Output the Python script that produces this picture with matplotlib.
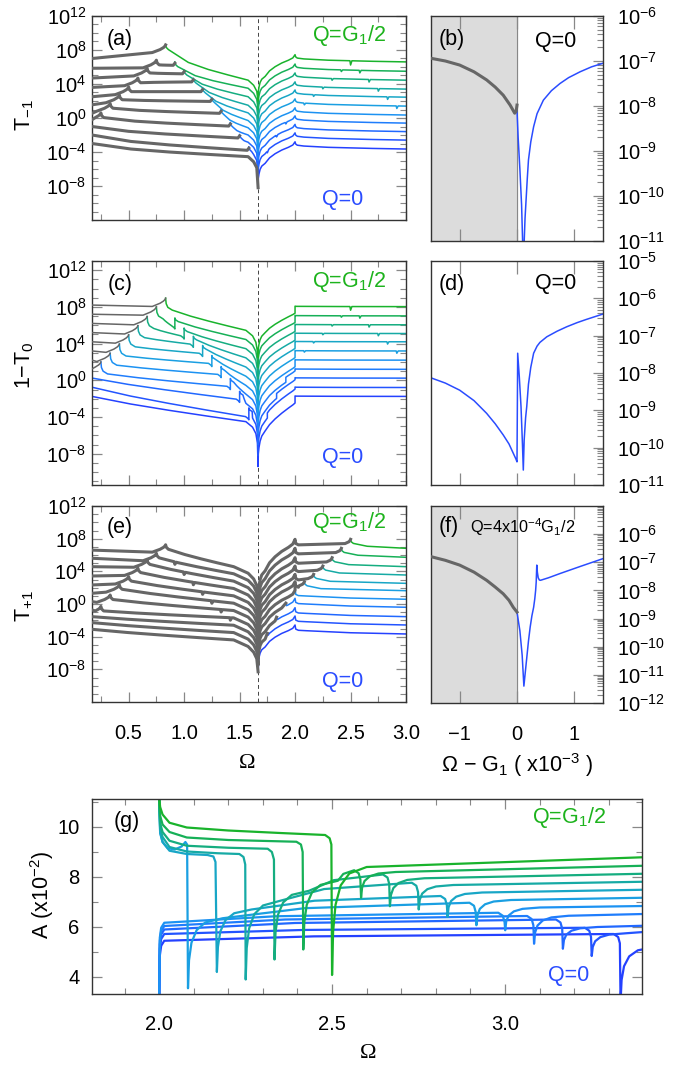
import numpy as np
import matplotlib
matplotlib.use("Agg")
import matplotlib.pyplot as plt
from matplotlib.ticker import FixedLocator, MultipleLocator, NullFormatter, FuncFormatter

plt.rcParams["font.family"] = ["Liberation Sans", "DejaVu Sans"]
plt.rcParams["mathtext.fontset"] = "custom"
plt.rcParams["mathtext.rm"] = "Liberation Sans"
plt.rcParams["mathtext.it"] = "Liberation Sans:italic"
plt.rcParams["mathtext.sf"] = "Liberation Sans"

# ------------------------------------------------------------------ data
G1 = 1.667
q_frac = [0.0, 0.1, 0.2, 0.3, 0.4, 0.5, 0.6, 0.7, 0.8, 0.9, 1.0]   # Q / (G1/2)

line_colors = ["#2441ff", "#2354ff", "#2168ff", "#1f7dfc", "#1c92f2", "#1a9fe2",
               "#18a6c6", "#16aaa5", "#15ad80", "#16b057", "#19b32c"]
gray = "#666666"
blue = "#2a4cff"
green = "#1db31d"

# (a) T_-1, log10 values
a_left = [-3.0, -2.0, -1.0, -0.2, 0.55, 1.55, 2.5, 3.6, 4.7, 5.85, 7.0]
a_cusp = [None, None, None, 0.6, 1.7, 2.7, 3.65, 4.7, 5.85, 6.8, 8.6]
a_open = [None, -3.4, -1.95, -0.55, 0.95, 2.35, 3.5, 4.65, 5.6, 6.6, 8.6]
a_knee = [-4.55, -3.7, -2.85, -2.0, -1.15, -0.3, 0.6, 1.5, 2.5, 3.5, 4.45]
a_dip = [-8.2, -7.0, -6.0, -5.0, -4.0, -3.0, -2.0, -1.0, 0.0, 1.0, 2.0]
a_right = [-3.65, -2.6, -1.6, -0.6, 0.35, 1.4, 2.45, 3.4, 4.45, 5.5, 6.6]

# (c) 1 - T_0, log10 values
c_left = [-1.75, -0.75, 0.25, 1.25, 2.2, 3.2, 4.2, 5.2, 6.2, 7.2, 8.2]
c_cusp = [None, None, None, 2.0, 2.95, 3.95, 4.95, 5.95, 6.95, 8.0, 8.95]
c_low = [None, -4.3, -2.4, -1.0, 0.3, 1.5, 2.6, 3.6, 4.5, 5.6, None]
c_high = [None, -3.0, -1.2, 0.2, 1.5, 2.7, 3.8, 4.8, 5.7, 6.8, None]
c_knee = [-4.5, -3.5, -2.5, -1.5, -0.55, 0.45, 1.45, 2.45, 3.45, 4.45, 5.45]
c_dip = [-9.4, -8.2, -7.0, -5.8, -4.6, -3.4, -2.2, -1.0, 0.2, 1.4, 2.5]
c_right = [-1.75, -0.78, 0.24, 1.2, 2.2, 3.2, 4.2, 5.1, 6.05, 7.02, 8.03]

# (e) T_+1, log10 values
e_left = [-3.1, -2.28, -1.55, -0.73, 0.29, 1.31, 2.33, 3.43, 4.57, 5.6, 6.6]
e_cusp = [None, None, None, -0.3, 1.1, 2.35, 3.35, 4.4, 5.4, 6.2, 7.25]
e_knee = [-4.4, -3.5, -2.6, -1.7, -0.8, 0.1, 1.0, 1.9, 2.8, 3.7, 4.57]
e_dip = [-8.3, -7.5, -6.7, -5.9, -5.1, -4.3, -3.5, -2.7, -1.9, -1.1, -0.3]
e_right = [-3.67, -2.57, -1.55, -0.4, 0.58, 1.63, 2.53, 3.55, 4.57, 5.72, 6.82]

# shape of the rise from the dip at G1 up to the cusp at 2.0 (fraction of the climb)
rise_x = [1.669, 1.675, 1.685, 1.70, 1.73, 1.77, 1.82, 1.88, 1.94, 1.98, 2.0]
rise_s_a = [0.2, 0.3, 0.4, 0.47, 0.53, 0.65, 0.74, 0.82, 0.88, 0.93, 1.0]
rise_s_c = [0.2, 0.3, 0.4, 0.48, 0.56, 0.66, 0.75, 0.84, 0.92, 0.97, 1.0]

# (b), (d), (f): Omega - G1 in units of 1e-3, log10 values
b_gray_x = [-1.5, -1.25, -1.0, -0.75, -0.53, -0.38, -0.24, -0.12, -0.04, -0.015, 0.0]
b_gray_y = [-6.94, -7.0, -7.09, -7.24, -7.42, -7.58, -7.76, -7.98, -8.16, -8.12, -7.98]
b_blue_x = [0.0, 0.02, 0.05, 0.08, 0.1, 0.11, 0.12, 0.14, 0.16, 0.18, 0.2, 0.24, 0.29,
            0.35, 0.46, 0.6, 0.75, 0.9, 1.1, 1.3, 1.5]
b_blue_y = [-8.09, -8.7, -9.4, -10.2, -11.1, -12.0, -11.2, -10.5, -10.05, -9.6, -9.2, -8.8,
            -8.46, -8.17, -7.87, -7.66, -7.5, -7.37, -7.24, -7.13, -7.05]

d_x = [-1.5, -1.25, -1.0, -0.75, -0.53, -0.38, -0.24, -0.14, -0.065, -0.02, 0.0, 0.012,
       0.04, 0.07, 0.095, 0.11, 0.125, 0.15, 0.17, 0.2, 0.24, 0.29, 0.35, 0.4, 0.52, 0.7,
       0.87, 1.05, 1.2, 1.5]
d_y = [-8.13, -8.27, -8.46, -8.74, -9.08, -9.36, -9.66, -9.9, -10.15, -10.3, -10.38, -7.47,
       -8.1, -8.9, -9.9, -10.6, -9.8, -9.2, -8.9, -8.3, -7.85, -7.47, -7.28, -7.18, -7.03, -6.88,
       -6.76, -6.65, -6.57, -6.42]

f_gray_x = [-1.5, -1.25, -1.0, -0.75, -0.53, -0.38, -0.24, -0.14, -0.065, 0.0]
f_gray_y = [-6.8, -6.93, -7.1, -7.35, -7.64, -7.88, -8.12, -8.35, -8.6, -8.77]
f_blue_x = [0.0, 0.05, 0.09, 0.12, 0.15, 0.17, 0.2, 0.23, 0.26, 0.29, 0.31, 0.325, 0.335,
            0.345, 0.355, 0.37, 0.39, 0.41, 0.55, 0.75, 1.1, 1.5]
f_blue_y = [-8.77, -9.43, -10.3, -11.4, -10.8, -10.4, -9.8, -9.3, -8.9, -8.6, -8.3, -8.0, -7.7,
            -7.1, -7.35, -7.55, -7.63, -7.64, -7.55, -7.4, -7.15, -6.87]

# (g) A (x1e-2): upper branch for Q >= 5/10 G1/2, read as (Omega, A)
g_upper = [None, None, None, None, None,
           [(2.0, 11.2), (2.003, 9.75), (2.01, 9.4), (2.025, 9.15), (2.045, 9.1),
            (2.065, 9.22), (2.076, 9.4), (2.081, 9.3), (2.0835, 3.55)],
           [(2.0, 11.2), (2.003, 9.8), (2.01, 9.4), (2.03, 9.05), (2.08, 8.92),
            (2.14, 8.88), (2.157, 8.82), (2.163, 8.6), (2.167, 4.2)],
           [(2.0, 11.2), (2.003, 9.95), (2.01, 9.6), (2.03, 9.2), (2.08, 9.02),
            (2.17, 8.95), (2.232, 8.92), (2.244, 8.8), (2.249, 8.5), (2.2503, 3.9)],
           [(2.0, 11.2), (2.003, 10.15), (2.01, 9.8), (2.03, 9.45), (2.08, 9.25),
            (2.2, 9.17), (2.314, 9.13), (2.326, 9.0), (2.332, 8.7), (2.3336, 4.7)],
           [(2.0, 11.2), (2.003, 10.45), (2.01, 10.1), (2.03, 9.8), (2.08, 9.58),
            (2.2, 9.48), (2.397, 9.41), (2.41, 9.3), (2.415, 9.0), (2.4168, 5.1)],
           [(2.0, 11.2), (2.003, 10.8), (2.01, 10.5), (2.03, 10.17), (2.08, 9.98),
            (2.2, 9.86), (2.35, 9.76), (2.48, 9.68), (2.493, 9.55), (2.498, 9.3), (2.5, 4.08)]]
g_start = [5.45, 5.72, 5.9, 6.04, 6.17, 6.35, 6.7, 7.05, 7.45, 7.85, None]
g_pre = [5.75, 6.0, 6.33, 6.47, 6.6, 7.0, 7.27, 7.8, 8.13, 8.3, None]
g_low = [3.0, 4.84, 5.13, 5.33, 5.87, 6.07, 6.4, 6.7, 6.83, 7.17, None]
g_near = [5.2, 5.75, 6.0, 6.45, 6.78, 7.08, 7.38, 7.68, 7.95, 8.2, 8.4]
g_end = [5.0, 5.8, 6.05, 6.52, 6.84, 7.17, 7.49, 7.81, 8.13, 8.45, 8.79]
arc_dx = [0.003, 0.01, 0.025, 0.05, 0.1]
arc_f = [0.4, 0.65, 0.83, 0.94, 1.0]

EDGE = 0.17
TXT = 15.5
TICK = 14.5


# ------------------------------------------------------------------ helpers
def cusp_in(x0, peak):
    return [(x0 - 0.12, peak - 0.9), (x0 - 0.05, peak - 0.55),
            (x0 - 0.02, peak - 0.32), (x0 - 0.006, peak - 0.15), (x0, peak)]


def cusp_out(x0, peak):
    return [(x0, peak), (x0 + 0.006, peak - 0.3), (x0 + 0.025, peak - 0.55)]


def decline(p0, p1, frac=(0.42, 0.65, 0.83)):
    (x0, y0), (x1, y1) = p0, p1
    mids = [(x0 + (x1 - x0) * t, y0 + (y1 - y0) * f) for t, f in zip((0.25, 0.5, 0.75), frac)]
    return [p0] + mids + [p1]


def notch(pts, x, depth, w=0.006):
    xs = [p[0] for p in pts]
    ys = [p[1] for p in pts]
    if x - w <= xs[0] or x + 2 * w >= xs[-1]:
        return pts
    keep = [p for p in pts if not (x - w <= p[0] <= x + 2 * w)]
    add = [(x - w, np.interp(x - w, xs, ys)), (x, np.interp(x, xs, ys) - depth),
           (x + 2 * w, np.interp(x + 2 * w, xs, ys))]
    return sorted(keep + add, key=lambda p: p[0])


def draw_log(ax, pts, color, lw, z=2):
    xs = np.array([p[0] for p in pts])
    ys = np.array([p[1] for p in pts])
    ax.plot(xs, 10.0 ** ys, color=color, lw=lw, zorder=z, solid_joinstyle="round")


def pow10(v, pos):
    return r"$10^{%d}$" % int(round(np.log10(v)))


W, H = 685, 1068
fig = plt.figure(figsize=(W / 100, H / 100), dpi=100)


def box(x0, y0, x1, y1):
    return fig.add_axes([x0 / W, 1 - y1 / H, (x1 - x0) / W, (y1 - y0) / H])


def frame(ax):
    for s in ax.spines.values():
        s.set_color("#333333")
        s.set_linewidth(1.0)
    ax.tick_params(which="both", direction="in", color="#888888", labelsize=TICK)
    ax.tick_params(which="major", length=7, width=0.9)
    ax.tick_params(which="minor", length=4, width=0.8)


def style_left(ax, ylo, yhi, xlabels=False):
    ax.set_xlim(EDGE, 3.0)
    ax.set_yscale("log")
    ax.set_ylim(10.0 ** ylo, 10.0 ** yhi)
    ax.yaxis.set_major_locator(FixedLocator([10.0 ** k for k in range(-8, 13, 4)]))
    ax.yaxis.set_minor_locator(FixedLocator([10.0 ** k for k in range(int(np.ceil(ylo)), int(yhi) + 1)]))
    ax.yaxis.set_major_formatter(FuncFormatter(pow10))
    ax.yaxis.set_minor_formatter(NullFormatter())
    ax.xaxis.set_major_locator(MultipleLocator(0.5))
    ax.xaxis.set_minor_locator(MultipleLocator(0.25))
    ax.xaxis.set_major_formatter(FuncFormatter(lambda v, p: "%.1f" % v))
    frame(ax)
    ax.tick_params(axis="y", which="both", left=True, right=True, pad=4)
    ax.tick_params(axis="x", which="both", top=True, bottom=True, labelbottom=xlabels, pad=16)
    ax.axvline(G1, color="#444444", lw=0.7, ls=(0, (4, 3)), zorder=1)


def style_right(ax, ylo, yhi, labels, xlabels=False):
    ax.set_xlim(-1.5, 1.5)
    ax.set_yscale("log")
    ax.set_ylim(10.0 ** ylo, 10.0 ** yhi)
    ax.yaxis.set_major_locator(FixedLocator([10.0 ** k for k in labels]))
    ax.yaxis.set_minor_locator(FixedLocator([m * 10.0 ** k for k in range(ylo, yhi) for m in range(2, 10)]))
    ax.yaxis.set_major_formatter(FuncFormatter(pow10))
    ax.yaxis.set_minor_formatter(NullFormatter())
    ax.yaxis.tick_right()
    ax.xaxis.set_major_locator(FixedLocator([-1, 0, 1]))
    ax.xaxis.set_major_formatter(FuncFormatter(lambda v, p: ("\u2212%d" % -v) if v < 0 else "%d" % v))
    frame(ax)
    ax.tick_params(axis="y", which="both", left=False, right=True, labelright=True, pad=10)
    ax.tick_params(axis="x", which="major", top=True, bottom=True, labelbottom=xlabels, length=9, pad=16)


# ------------------------------------------------------------------ (a)
ax_a = box(92, 16, 406, 220)
style_left(ax_a, -12, 12)
for i in range(11):
    q = q_frac[i] * G1 / 2
    xa, xb = q, G1 - q
    R, dip, knee = a_right[i], a_dip[i], a_knee[i]
    approach = [(G1 - 0.04, knee - 0.6), (G1 - 0.012, knee - 1.3), (G1, dip)]
    right = [(G1, dip)] + [(x, dip + (R + 0.85 - dip) * s) for x, s in zip(rise_x, rise_s_a)]
    right += [(2.005, R + 0.6), (2.02, R + 0.45), (2.08, R + 0.35), (2.3, R + 0.2), (2.7, R + 0.07), (3.0, R)]

    if i == 0:
        g = decline((EDGE, a_left[0]), (G1 - 0.09, knee)) + approach
        col = right
    else:
        g = [(EDGE, a_left[i])]
        if xa > EDGE + 0.03:
            g += [p for p in cusp_in(xa, a_cusp[i]) if p[0] > EDGE]
            if xb > xa + 1e-6:
                g += cusp_out(xa, a_cusp[i])[1:]
        if xb > xa + 1e-6:
            g += decline(g[-1], (xb - 0.015, a_open[i] - 0.4))[1:] + [(xb, a_open[i] - 0.15)]
        col = cusp_out(xb, a_open[i])
        if col[-1][0] < G1 - 0.11:
            col += decline(col[-1], (G1 - 0.09, knee))[1:]
        col += [p for p in approach if p[0] > col[-1][0]]
        col = col[:-1] + right
        for xn, dn in ((G1 + q, 0.2), (2 * G1 - q, 0.3)):
            if 1.75 < xn < 2.97 and abs(xn - 2.0) > 0.03:
                col = notch(col, xn, dn)
    draw_log(ax_a, col, line_colors[i], 1.1, z=2)
    draw_log(ax_a, g, gray, 2.2, z=3)

# ------------------------------------------------------------------ (c)
ax_c = box(92, 261, 406, 485)
style_left(ax_c, -11.4, 13)
lin = (0.3, 0.55, 0.78)
for i in range(11):
    q = q_frac[i] * G1 / 2
    xa, xb = q, G1 - q
    R, dip, knee = c_right[i], c_dip[i], c_knee[i]
    rise = [(x, dip + (R - 0.72 - dip) * s) for x, s in zip(rise_x, rise_s_c)]
    xs_step = G1 + q
    if 1.7 < xs_step < 1.99:
        base = np.interp(xs_step, [p[0] for p in rise], [p[1] for p in rise])
        rise = ([p for p in rise if p[0] < xs_step] + [(xs_step, base), (xs_step, base + 0.55)]
                + [(x, y + 0.55) for x, y in rise if x > xs_step])
    right = [(G1, dip)] + rise + [(2.0, R + 0.05), (2.01, R + 0.03), (2.4, R + 0.01), (3.0, R)]
    for xn, dn in ((G1 + q, 0.15), (2 * G1 - q, 0.25)):
        if 2.05 < xn < 2.97:
            right = notch(right, xn, dn)

    approach = [(G1 - 0.05, knee - 0.6), (G1 - 0.02, knee - 1.3), (G1 - 0.006, knee - 2.3), (G1, dip)]
    if xa > EDGE + 0.03:
        g = [(EDGE, c_left[i])] + [p for p in cusp_in(xa, c_cusp[i]) if p[0] > EDGE]
        draw_log(ax_c, g, gray, 1.1, z=3)
        p = c_cusp[i]
        col = [(xa, p), (xa + 0.005, p - 0.6), (xa + 0.02, p - 1.0), (xa + 0.06, p - 1.3)]
    else:
        col = [(EDGE, c_left[i])]
    if 0 < i < 10:
        lo, hi = c_low[i], c_high[i]
        col += decline(col[-1], (xb - 0.03, lo + 0.35), lin)[1:]
        col += [(xb - 0.008, lo + 0.15), (xb, lo), (xb, hi), (xb + 0.006, hi - 0.2), (xb + 0.03, hi - 0.4)]
    if col[-1][0] < G1 - 0.13:
        col += decline(col[-1], (G1 - 0.11, knee), lin)[1:]
    col += [p for p in approach if p[0] > col[-1][0]]
    col = col[:-1] + right
    draw_log(ax_c, col, line_colors[i], 1.1, z=2)

# ------------------------------------------------------------------ (e)
ax_e = box(92, 506, 406, 702)
style_left(ax_e, -12, 12, xlabels=True)
for i in range(11):
    q = q_frac[i] * G1 / 2
    xa, xb, xu = q, G1 - q, G1 + q
    R, dip, knee = e_right[i], e_dip[i], e_knee[i]
    left = [(EDGE, e_left[i])]
    if xa > EDGE + 0.03:
        left += [p for p in cusp_in(xa, e_cusp[i]) if p[0] > EDGE] + cusp_out(xa, e_cusp[i])[1:]
    left += decline(left[-1], (G1 - 0.22, knee), (0.3, 0.55, 0.78))[1:]
    left += [(G1 - 0.09, knee - 0.8), (G1 - 0.04, knee - 1.5), (G1 - 0.012, knee - 2.3), (G1, dip)]
    if 0 < i < 10 and 0.3 < xb < G1 - 0.25:
        left = notch(left, xb, 0.3)
    rise = [(G1, dip)] + [(x, dip + (R + 1.1 - dip) * s) for x, s in zip(rise_x, rise_s_a)]
    if xu > 2.01:
        gr = rise + [(2.006, R + 0.6), (2.03, R + 0.42), (xu - 0.05, R + 0.58)]
        gr = [p for p in gr if p[0] < xu - 0.05 + 1e-9]
        gr += [(xu - 0.015, R + 0.8), (xu - 0.004, R + 0.98), (xu, R + 1.1)]
        col = [(xu, R + 1.1), (xu + 0.006, R + 0.8), (xu + 0.025, R + 0.6), (xu + 0.15, R + 0.25), (3.0, R)]
        g = left + gr[1:]
    else:
        full = rise + [(2.006, R + 0.6), (2.03, R + 0.45), (2.1, R + 0.4), (2.5, R + 0.15), (3.0, R)]
        fx, fy = [p[0] for p in full], [p[1] for p in full]
        top = np.interp(xu, fx, fy) + (0.35 if i > 0 else 0.0)
        after = np.interp(xu + 0.006, fx, fy)
        g = left + [p for p in full[1:] if p[0] < xu] + ([(xu, top)] if i > 0 else [])
        col = [(xu, top), (xu + 0.006, after)] + [p for p in full if p[0] > xu + 0.006]
    draw_log(ax_e, col, line_colors[i], 1.1, z=2)
    draw_log(ax_e, g, gray, 2.2, z=3)

# ------------------------------------------------------------------ (b), (d), (f)
ax_b = box(431, 16, 603, 241)
style_right(ax_b, -11, -6, range(-11, -5))
ax_b.axvspan(-1.5, 0, color="#dcdcdc", zorder=0)
ax_b.axvline(0, color="#888888", lw=0.8, zorder=1)
ax_b.plot(b_gray_x, 10.0 ** np.array(b_gray_y), color=gray, lw=2.2, zorder=3)
ax_b.plot(b_blue_x, 10.0 ** np.array(b_blue_y), color=blue, lw=1.1, zorder=2)

ax_d = box(431, 261, 603, 485)
style_right(ax_d, -11, -5, range(-11, -4))
ax_d.plot(d_x, 10.0 ** np.array(d_y), color=blue, lw=1.1, zorder=2)

ax_f = box(431, 506, 603, 703)
style_right(ax_f, -12, -5, range(-12, -5), xlabels=True)
ax_f.axvspan(-1.5, 0, color="#dcdcdc", zorder=0)
ax_f.axvline(0, color="#888888", lw=0.8, zorder=1)
ax_f.plot(f_gray_x, 10.0 ** np.array(f_gray_y), color=gray, lw=2.2, zorder=3)
ax_f.plot(f_blue_x, 10.0 ** np.array(f_blue_y), color=blue, lw=1.1, zorder=2)

# ------------------------------------------------------------------ (g)
ax_g = box(92, 799, 642, 994)
ax_g.set_xlim(1.806, 3.396)
ax_g.set_ylim(3.32, 11.12)
ax_g.xaxis.set_major_locator(FixedLocator([2.0, 2.5, 3.0]))
ax_g.xaxis.set_minor_locator(MultipleLocator(0.1))
ax_g.xaxis.set_major_formatter(FuncFormatter(lambda v, p: "%.1f" % v))
ax_g.yaxis.set_major_locator(MultipleLocator(2))
ax_g.yaxis.set_minor_locator(MultipleLocator(1))
frame(ax_g)
ax_g.tick_params(which="both", top=True, right=True)
ax_g.tick_params(axis="x", pad=15)
ax_g.tick_params(axis="y", pad=9)
for i in range(11):
    q = q_frac[i] * G1 / 2
    xl = 2 * G1 - q
    if g_upper[i] is not None:
        pts = list(g_upper[i])
        if i < 10:
            x0, y0 = pts[-1]
            pts += [(x0 + d, y0 + (g_start[i] - y0) * f) for d, f in zip(arc_dx, arc_f)]
    else:
        s0 = g_start[i]
        pts = [(2.0, 3.0), (2.002, s0 - 0.6), (2.006, s0 - 0.2), (2.015, s0)]
    if i < 10:
        x0, y0 = pts[-1]
        x1, y1 = xl - 0.02, g_pre[i] - 0.03
        pts += [(x0 + (x1 - x0) / 3, y0 + 0.65 * (y1 - y0)), (x1, y1),
                (xl - 0.007, g_pre[i] - 0.15), (xl - 0.002, g_pre[i] - 0.4), (xl, g_low[i])]
    x0, y0 = pts[-1]
    pts += [(x0 + d, y0 + (g_near[i] - y0) * f) for d, f in zip(arc_dx, arc_f)]
    if pts[-1][0] < 3.4:
        pts.append((3.4, g_end[i]))
    ax_g.plot([p[0] for p in pts], [p[1] for p in pts], color=line_colors[i], lw=1.6,
              solid_joinstyle="round")

# ------------------------------------------------------------------ text
def ftext(x, y, s, **kw):
    kw.setdefault("fontsize", TXT)
    kw.setdefault("va", "center")
    fig.text(x / W, 1 - y / H, s, **kw)


for lab, x, y in (("(a)", 120, 40), ("(b)", 452, 40), ("(c)", 120, 285), ("(d)", 452, 285),
                  ("(e)", 120, 528), ("(f)", 449, 527), ("(g)", 127, 822)):
    ftext(x, y, lab, ha="center")

for y in (35, 282, 523):
    ftext(312, y, "Q=G$_1$/2", ha="left", color=green)
for y in (200, 458, 682):
    ftext(322, y, "Q=0", ha="left", color=blue)
ftext(535, 42, "Q=0", ha="left")
ftext(535, 284, "Q=0", ha="left")
ftext(470, 527, "Q=4x10$^{-4}$G$_1$/2", ha="left", fontsize=11.7)
ftext(532, 817, "Q=G$_1$/2", ha="left", color=green)
ftext(548, 975, "Q=0", ha="left", color=blue)

ftext(25, 115, "T$_{-1}$", ha="center", rotation=90)
ftext(25, 365, "1\u2212T$_0$", ha="center", rotation=90)
ftext(25, 606, "T$_{+1}$", ha="center", rotation=90)
ftext(42, 895, "A (x10$^{-2}$)", ha="center", rotation=90)
ftext(247, 763, "\u03a9", ha="center", fontsize=16, family="Liberation Serif")
ftext(517, 765, "\u03a9 \u2212 G$_1$ ( x10$^{-3}$ )", ha="center")
ftext(368, 1053, "\u03a9", ha="center", fontsize=16, family="Liberation Serif")

fig.savefig("out.png", dpi=100)
